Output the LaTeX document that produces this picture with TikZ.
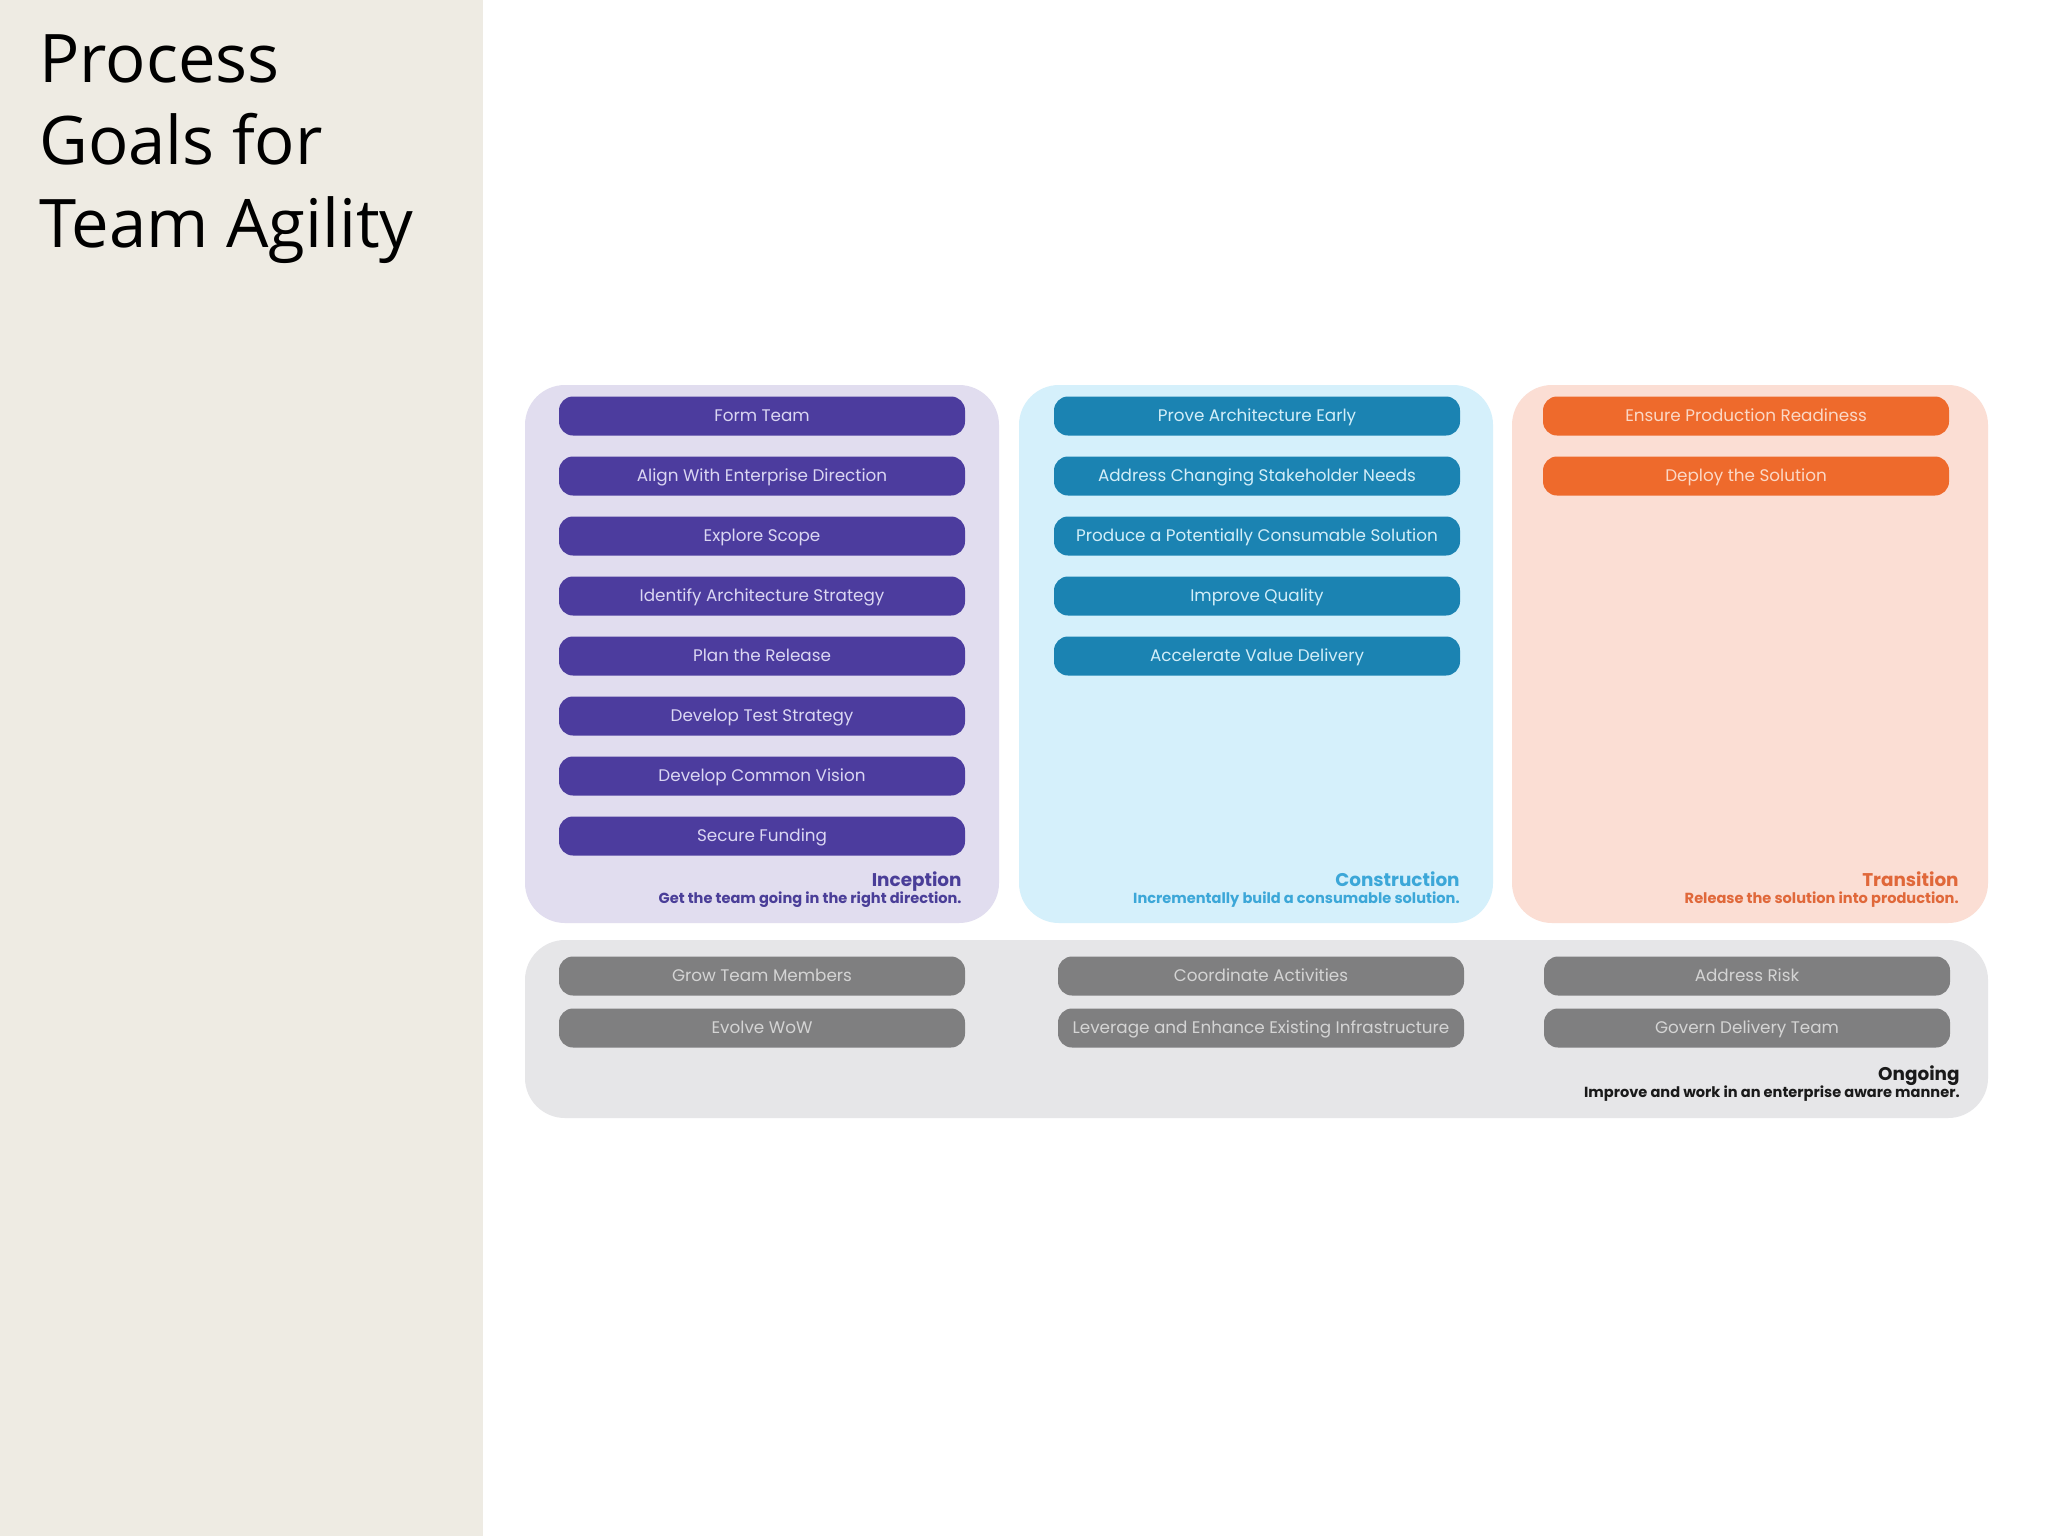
\documentclass[tikz,border=0pt]{standalone}
\usepackage{fontspec}
\setmainfont{Poppins}
\newfontfamily\titlefont{Open Sans}
\definecolor{sidebg}{HTML}{EEEBE3}
\definecolor{incbg}{HTML}{E1DDEF}
\definecolor{incpill}{HTML}{4C3C9E}
\definecolor{inctext}{HTML}{DAD6F2}
\definecolor{inclab}{HTML}{4A3E98}
\definecolor{conbg}{HTML}{D5F0FB}
\definecolor{conpill}{HTML}{1B83B2}
\definecolor{context}{HTML}{D2EEF8}
\definecolor{conlab}{HTML}{3CA7D8}
\definecolor{trabg}{HTML}{FBDED4}
\definecolor{trapill}{HTML}{EE6A2C}
\definecolor{tratext}{HTML}{FBD8C6}
\definecolor{tralab}{HTML}{E0683A}
\definecolor{ongbg}{HTML}{E6E6E8}
\definecolor{ongpill}{HTML}{7F7F80}
\definecolor{ongtext}{HTML}{D4D4D4}
\definecolor{onglab}{HTML}{1A1A1A}
\tikzset{
  phasebox/.style={rounded corners=20pt, inner sep=0pt, draw=none},
  pill/.style={rounded corners=7pt, minimum width=203pt, minimum height=19.5pt, inner sep=0pt,
    text height=6.2pt, text depth=1.2pt, font=\fontsize{8.4}{9}\selectfont},
  phasename/.style={anchor=base east, inner sep=0pt, font=\fontsize{9.2}{10}\selectfont\bfseries},
  phasesub/.style={anchor=base east, inner sep=0pt, font=\fontsize{7.3}{8}\selectfont\bfseries},
  titleline/.style={anchor=base west, inner sep=0pt, font=\titlefont\fontsize{33.5}{40}\selectfont}
}
\begin{document}
\begin{tikzpicture}[x=0.5pt,y=-0.5pt]
\useasboundingbox (0,0) rectangle (2048,1536);
\fill[white] (0,0) rectangle (2048,1536);
\fill[sidebg] (0,0) rectangle (483,1536);
\node[titleline] (title1) at (39,83) {Process};
\node[titleline] (title2) at (39,164) {Goals for};
\node[titleline] (title3) at (39,247) {Team Agility};

% phase boxes
\node[phasebox, fill=incbg, minimum width=237pt, minimum height=269pt] (incbox) at (762,654) {};
\node[phasebox, fill=conbg, minimum width=237pt, minimum height=269pt] (conbox) at (1256,654) {};
\node[phasebox, fill=trabg, minimum width=238pt, minimum height=269pt] (trabox) at (1750,654) {};
\node[phasebox, fill=ongbg, minimum width=731.5pt, minimum height=89pt] (ongbox) at (1256.5,1029) {};

% Inception
\foreach \t [count=\i from 0] in {Form Team, Align With Enterprise Direction, Explore Scope,
  Identify Architecture Strategy, Plan the Release, Develop Test Strategy,
  Develop Common Vision, Secure Funding}
  \node[pill, fill=incpill, text=inctext] (inc\i) at (762,{416+60*\i}) {\t};
\node[phasename, text=inclab] (incname) at (962,886) {Inception};
\node[phasesub, text=inclab] (incsub) at (962,903) {Get the team going in the right direction.};

% Construction
\foreach \t [count=\i from 0] in {Prove Architecture Early, Address Changing Stakeholder Needs,
  Produce a Potentially Consumable Solution, Improve Quality, Accelerate Value Delivery}
  \node[pill, fill=conpill, text=context] (con\i) at (1257,{416+60*\i}) {\t};
\node[phasename, text=conlab] (conname) at (1460,886) {Construction};
\node[phasesub, text=conlab] (consub) at (1460,903) {Incrementally build a consumable solution.};

% Transition
\foreach \t [count=\i from 0] in {Ensure Production Readiness, Deploy the Solution}
  \node[pill, fill=trapill, text=tratext] (tra\i) at (1746,{416+60*\i}) {\t};
\node[phasename, text=tralab] (traname) at (1959,886) {Transition};
\node[phasesub, text=tralab] (trasub) at (1959,903) {Release the solution into production.};

% Ongoing
\node[pill, fill=ongpill, text=ongtext] (ong1) at (762,976) {Grow Team Members};
\node[pill, fill=ongpill, text=ongtext] (ong2) at (762,1028) {Evolve WoW};
\node[pill, fill=ongpill, text=ongtext] (ong3) at (1261,976) {Coordinate Activities};
\node[pill, fill=ongpill, text=ongtext] (ong4) at (1261,1028) {Leverage and Enhance Existing Infrastructure};
\node[pill, fill=ongpill, text=ongtext] (ong5) at (1747,976) {Address Risk};
\node[pill, fill=ongpill, text=ongtext] (ong6) at (1747,1028) {Govern Delivery Team};
\node[phasename, text=onglab] (ongname) at (1960,1080) {Ongoing};
\node[phasesub, text=onglab] (ongsub) at (1960,1097) {Improve and work in an enterprise aware manner.};
\end{tikzpicture}
\end{document}
